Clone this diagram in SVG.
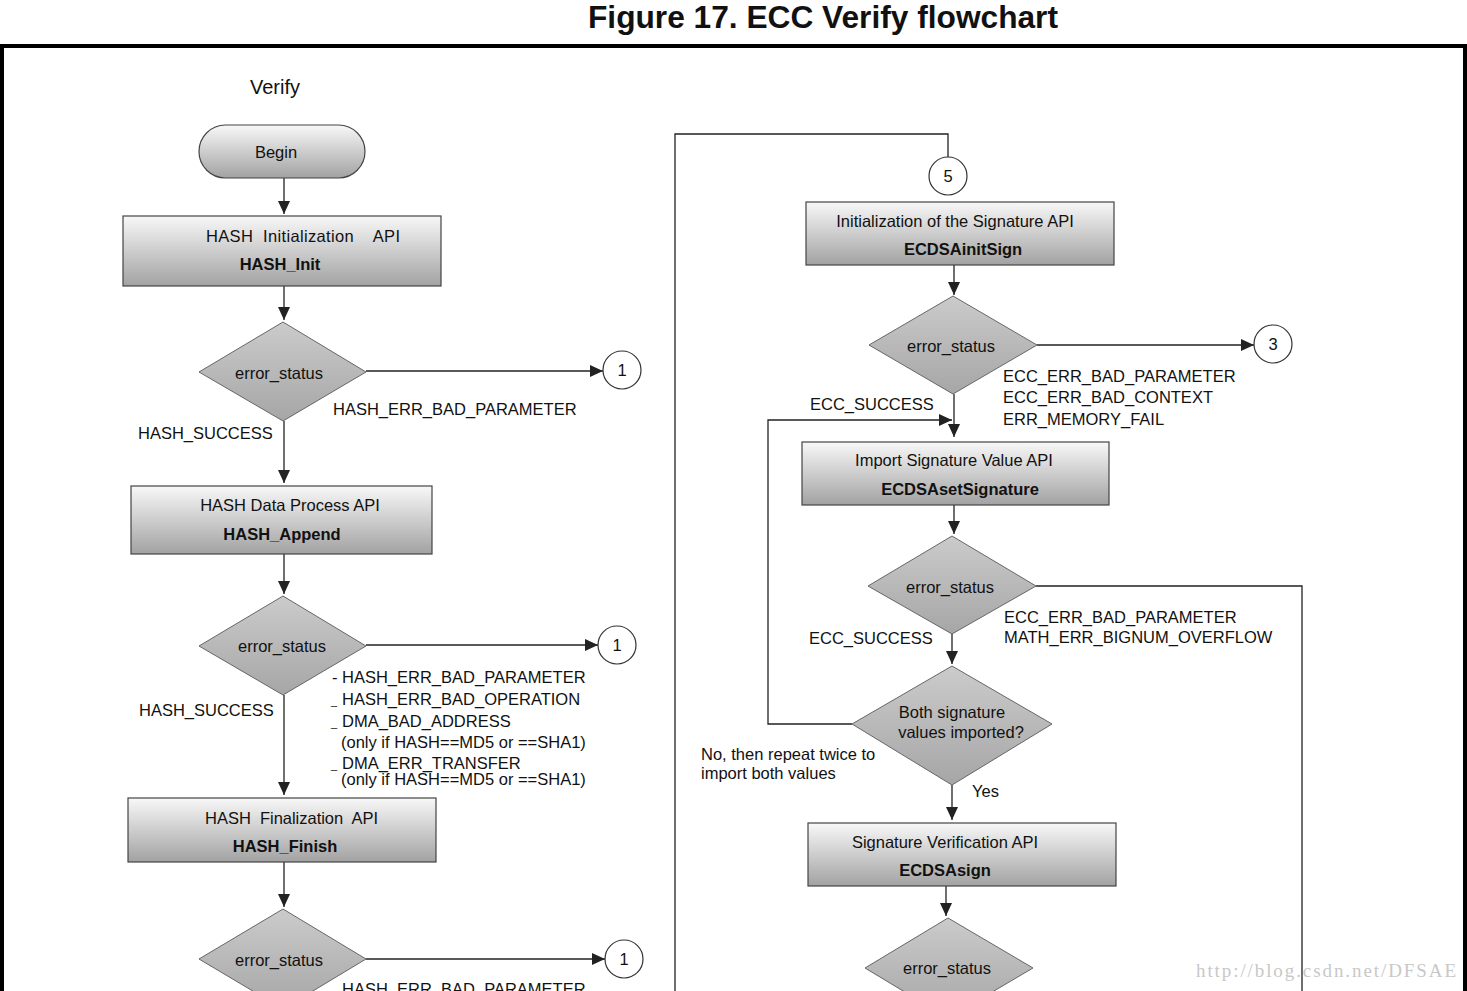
<svg xmlns="http://www.w3.org/2000/svg" width="1467" height="991" viewBox="0 0 1467 991">
<style>
text{font-family:"Liberation Sans",Arial,sans-serif;fill:#111;}
.t{font-size:16.5px;}
.b{font-size:16.5px;font-weight:bold;}
.c{text-anchor:middle;}
.box{fill:url(#gBox);stroke:#444;stroke-width:1.2;}
.dia{fill:url(#gDia);stroke:#666;stroke-width:1;}
.circ{fill:#fff;stroke:#333;stroke-width:1.2;}
.ln{fill:none;stroke:#222;stroke-width:1.3;}
.ar{marker-end:url(#ah);}
</style>
<defs>
<linearGradient id="gBox" x1="0" y1="0" x2="0" y2="1">
<stop offset="0" stop-color="#f8f8f8"/>
<stop offset="1" stop-color="#a2a2a2"/>
</linearGradient>
<linearGradient id="gDia" x1="0" y1="0" x2="0" y2="1">
<stop offset="0" stop-color="#cbcbcb"/>
<stop offset="1" stop-color="#a6a6a6"/>
</linearGradient>
<marker id="ah" markerWidth="13" markerHeight="12" refX="13" refY="6" orient="auto" markerUnits="userSpaceOnUse">
<path d="M0,0 L13,6 L0,12 z" fill="#222"/>
</marker>
</defs>
<rect width="1467" height="991" fill="#fff"/>
<text x="588" y="28" textLength="470" lengthAdjust="spacingAndGlyphs" style="font-size:31.5px;font-weight:bold;">Figure 17. ECC Verify flowchart</text>
<path d="M2,1000 V46 H1465 V1000" fill="none" stroke="#000" stroke-width="4"/>
<text x="275" y="94" class="c" style="font-size:20px;">Verify</text>

<g id="connectors">
<path class="ln ar" d="M284,178 V214"/>
<path class="ln ar" d="M284,286 V320"/>
<path class="ln ar" d="M366,371 H603"/>
<path class="ln ar" d="M284,421 V483"/>
<path class="ln ar" d="M284,554 V594"/>
<path class="ln ar" d="M366,645 H598"/>
<path class="ln ar" d="M284,695 V795"/>
<path class="ln ar" d="M284,862 V907"/>
<path class="ln ar" d="M366,959 H605"/>
<path class="ln" d="M675,991 V134 H948 V157"/>
<path class="ln ar" d="M954,265 V295"/>
<path class="ln ar" d="M1037,345 H1254"/>
<path class="ln ar" d="M954,394 V437"/>
<path class="ln ar" d="M852,724 H768 V420 H952"/>
<path class="ln ar" d="M954,505 V534"/>
<path class="ln" d="M1036,586 H1302 V991"/>
<path class="ln ar" d="M952,634 V664"/>
<path class="ln ar" d="M952,785 V820"/>
<path class="ln ar" d="M946,886 V916"/>
</g>

<g id="begin">
<rect x="199" y="125" width="166" height="53" rx="26.5" class="box"/>
<text x="276" y="158" class="t c">Begin</text>
</g>
<g id="hash_init">
<rect x="123" y="216" width="318" height="70" class="box"/>
<text x="206" y="242" class="t" textLength="194" style="white-space:pre">HASH  Initialization    API</text>
<text x="280" y="270" class="b c">HASH_Init</text>
</g>
<g id="dec1">
<polygon points="283,322 366,372 283,421 199,372" class="dia"/>
<text x="279" y="379" class="t c">error_status</text>
</g>
<g id="c1a">
<circle cx="622" cy="370" r="19" class="circ"/>
<text x="622" y="376" class="t c">1</text>
</g>
<text x="333" y="415" class="t">HASH_ERR_BAD_PARAMETER</text>
<text x="138" y="439" class="t">HASH_SUCCESS</text>

<g id="hash_append">
<rect x="131" y="486" width="301" height="68" class="box"/>
<text x="290" y="511" class="t c">HASH Data Process API</text>
<text x="282" y="540" class="b c">HASH_Append</text>
</g>
<g id="dec2">
<polygon points="283,596 366,646 283,695 199,646" class="dia"/>
<text x="282" y="652" class="t c">error_status</text>
</g>
<g id="c1b">
<circle cx="617" cy="645" r="19" class="circ"/>
<text x="617" y="651" class="t c">1</text>
</g>
<text x="139" y="716" class="t">HASH_SUCCESS</text>
<g id="errlist2">
<text x="332" y="683" class="t">-</text>
<text x="342" y="683" class="t">HASH_ERR_BAD_PARAMETER</text>
<text x="331" y="705" class="t" style="font-size:11px">_</text>
<text x="342" y="705" class="t">HASH_ERR_BAD_OPERATION</text>
<text x="331" y="727" class="t" style="font-size:11px">_</text>
<text x="342" y="727" class="t">DMA_BAD_ADDRESS</text>
<text x="341" y="748" class="t">(only if HASH==MD5 or ==SHA1)</text>
<text x="331" y="769" class="t" style="font-size:11px">_</text>
<text x="342" y="769" class="t">DMA_ERR_TRANSFER</text>
<text x="341" y="785" class="t">(only if HASH==MD5 or ==SHA1)</text>
</g>

<g id="hash_finish">
<rect x="128" y="798" width="308" height="64" class="box"/>
<text x="205" y="824" class="t" textLength="173" style="white-space:pre">HASH  Finalization  API</text>
<text x="285" y="852" class="b c">HASH_Finish</text>
</g>
<g id="dec3">
<polygon points="283,909 366,959 283,1009 199,959" class="dia"/>
<text x="279" y="966" class="t c">error_status</text>
</g>
<g id="c1c">
<circle cx="624" cy="959" r="19" class="circ"/>
<text x="624" y="965" class="t c">1</text>
</g>
<text x="342" y="995" class="t">HASH_ERR_BAD_PARAMETER</text>

<g id="c5">
<circle cx="948" cy="176" r="19" class="circ"/>
<text x="948" y="182" class="t c">5</text>
</g>
<g id="ecdsa_init">
<rect x="806" y="202" width="308" height="63" class="box"/>
<text x="955" y="227" class="t c">Initialization of the Signature API</text>
<text x="963" y="255" class="b c">ECDSAinitSign</text>
</g>
<g id="dec4">
<polygon points="953,296 1037,345 953,394 869,345" class="dia"/>
<text x="951" y="352" class="t c">error_status</text>
</g>
<g id="c3">
<circle cx="1273" cy="344" r="19" class="circ"/>
<text x="1273" y="350" class="t c">3</text>
</g>
<text x="1003" y="382" class="t">ECC_ERR_BAD_PARAMETER</text>
<text x="1003" y="403" class="t">ECC_ERR_BAD_CONTEXT</text>
<text x="1003" y="425" class="t">ERR_MEMORY_FAIL</text>
<text x="810" y="410" class="t">ECC_SUCCESS</text>

<g id="ecdsa_set">
<rect x="802" y="442" width="307" height="63" class="box"/>
<text x="954" y="466" class="t c">Import Signature Value API</text>
<text x="960" y="495" class="b c">ECDSAsetSignature</text>
</g>
<g id="dec5">
<polygon points="952,536 1036,586 952,634 868,586" class="dia"/>
<text x="950" y="593" class="t c">error_status</text>
</g>
<text x="1004" y="623" class="t">ECC_ERR_BAD_PARAMETER</text>
<text x="1004" y="643" class="t">MATH_ERR_BIGNUM_OVERFLOW</text>
<text x="809" y="644" class="t">ECC_SUCCESS</text>

<g id="dec6">
<polygon points="952,666 1052,724 952,785 852,724" class="dia"/>
<text x="952" y="718" class="t c">Both signature</text>
<text x="961" y="738" class="t c">values imported?</text>
</g>
<text x="701" y="760" class="t">No, then repeat twice to</text>
<text x="701" y="779" class="t">import both values</text>
<text x="972" y="797" class="t">Yes</text>

<g id="ecdsa_sign">
<rect x="808" y="823" width="308" height="63" class="box"/>
<text x="945" y="848" class="t c">Signature Verification API</text>
<text x="945" y="876" class="b c">ECDSAsign</text>
</g>
<g id="dec7">
<polygon points="948,918 1033,968 948,1018 865,968" class="dia"/>
<text x="947" y="974" class="t c">error_status</text>
</g>

<text x="1196" y="977" textLength="260" style="font-family:'Liberation Serif',serif;font-size:19px;fill:#c8c8c8;">http://blog.csdn.net/DFSAE</text>
</svg>
